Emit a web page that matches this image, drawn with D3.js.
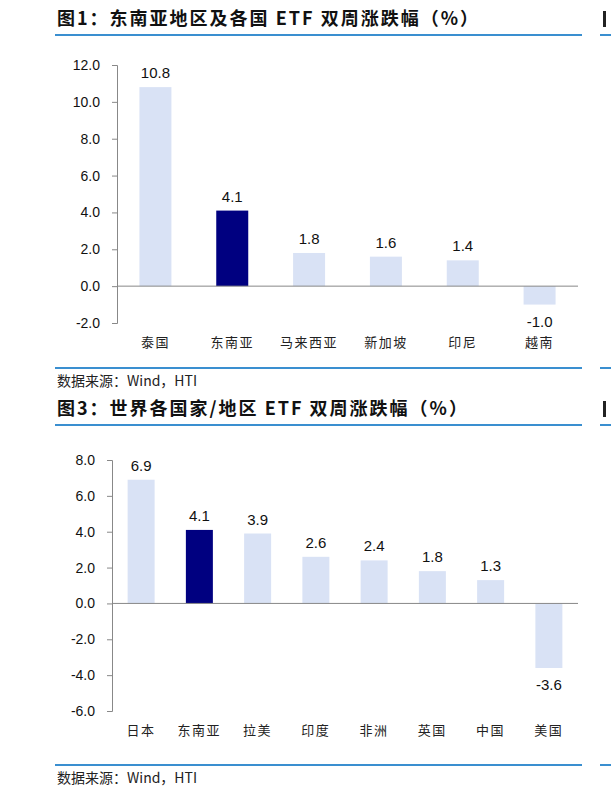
<!DOCTYPE html>
<html><head><meta charset="utf-8">
<script src="https://cdn.jsdelivr.net/npm/d3@7"></script>
<style>body{margin:0;background:#fff}svg{display:block}</style>
</head><body><svg id="c" width="611" height="799"></svg>
<script>
const cats1 = ["泰国","东南亚","马来西亚","新加坡","印尼","越南"];
const vals1 = [10.8,4.1,1.8,1.6,1.4,-1.0];
const ticks1 = [-2,0,2,4,6,8,10,12];
const cats2 = ["日本","东南亚","拉美","印度","非洲","英国","中国","美国"];
const vals2 = [6.9,4.1,3.9,2.6,2.4,1.8,1.3,-3.6];
const ticks2 = [-6,-4,-2,0,2,4,6,8];
const hi = "东南亚";

const svg = d3.select("#c");
const blue = "#3a8fd0";
const cjk = "'Noto Sans CJK SC', sans-serif";
const fmt = d => d.toFixed(1);

function header(y, text){
  svg.append("text").attr("x",57).attr("y",y).attr("font-family",cjk).attr("font-weight","bold")
    .attr("font-size",18).attr("letter-spacing",2).attr("fill","#111").text(text);
  svg.append("line").attr("x1",55).attr("x2",582).attr("y1",y+10).attr("y2",y+10).attr("stroke",blue).attr("stroke-width",2);
  svg.append("rect").attr("x",600).attr("y",y+9).attr("width",11).attr("height",2).attr("fill",blue);
  svg.append("rect").attr("x",603).attr("y",y-14).attr("width",3).attr("height",16).attr("fill","#222");
}
function source(y){
  svg.append("line").attr("x1",55).attr("x2",582).attr("y1",y).attr("y2",y).attr("stroke",blue).attr("stroke-width",2);
  svg.append("rect").attr("x",600).attr("y",y-1).attr("width",11).attr("height",2).attr("fill",blue);
  svg.append("text").attr("x",57).attr("y",y+18).attr("font-family",cjk).attr("font-size",14).attr("fill","#222").text("数据来源：Wind，HTI");
}
function chart(cats, vals, ticks, x0, x1, yTop, yBot, bw, labY){
  const x = d3.scaleBand().domain(cats).range([x0,x1]);
  const y = d3.scaleLinear().domain([ticks[0],ticks[ticks.length-1]]).range([yBot,yTop]);
  const g = svg.append("g");
  const ax = g.append("g").attr("transform",`translate(${x0},0)`)
    .call(d3.axisLeft(y).tickValues(ticks).tickFormat(fmt).tickSize(5).tickPadding(12));
  ax.selectAll("path,line").attr("stroke","#888");
  ax.selectAll("text").attr("font-family","Liberation Sans, Arial").attr("font-size",14).attr("fill","#111");
  g.selectAll("rect.b").data(vals).join("rect")
    .attr("x",(d,i)=>x(cats[i])+x.bandwidth()/2-bw/2).attr("width",bw)
    .attr("y",d=>y(Math.max(0,d))).attr("height",d=>Math.abs(y(d)-y(0)))
    .attr("fill",(d,i)=>cats[i]===hi?"#000080":"#d9e2f5");
  g.append("line").attr("x1",x0).attr("x2",x1).attr("y1",y(0)).attr("y2",y(0)).attr("stroke","#888");
  g.selectAll("text.v").data(vals).join("text")
    .attr("x",(d,i)=>x(cats[i])+x.bandwidth()/2).attr("y",d=>d>=0?y(d)-9:y(d)+22)
    .attr("text-anchor","middle").attr("font-family","Liberation Sans, Arial").attr("font-size",15).attr("fill","#111")
    .text(fmt);
  g.selectAll("text.c").data(cats).join("text")
    .attr("x",d=>x(d)+x.bandwidth()/2).attr("y",labY).attr("text-anchor","middle")
    .attr("font-family",cjk).attr("font-size",13).attr("fill","#222").attr("letter-spacing",1.5).text(d=>d);
}
header(25,"图1：东南亚地区及各国 ETF 双周涨跌幅（%）");
chart(cats1, vals1, ticks1, 117, 578, 65, 323, 32, 347);
source(368);
header(415,"图3：世界各国家/地区 ETF 双周涨跌幅（%）");
chart(cats2, vals2, ticks2, 112, 578, 460, 711, 27, 735);
source(765);
</script></body></html>
